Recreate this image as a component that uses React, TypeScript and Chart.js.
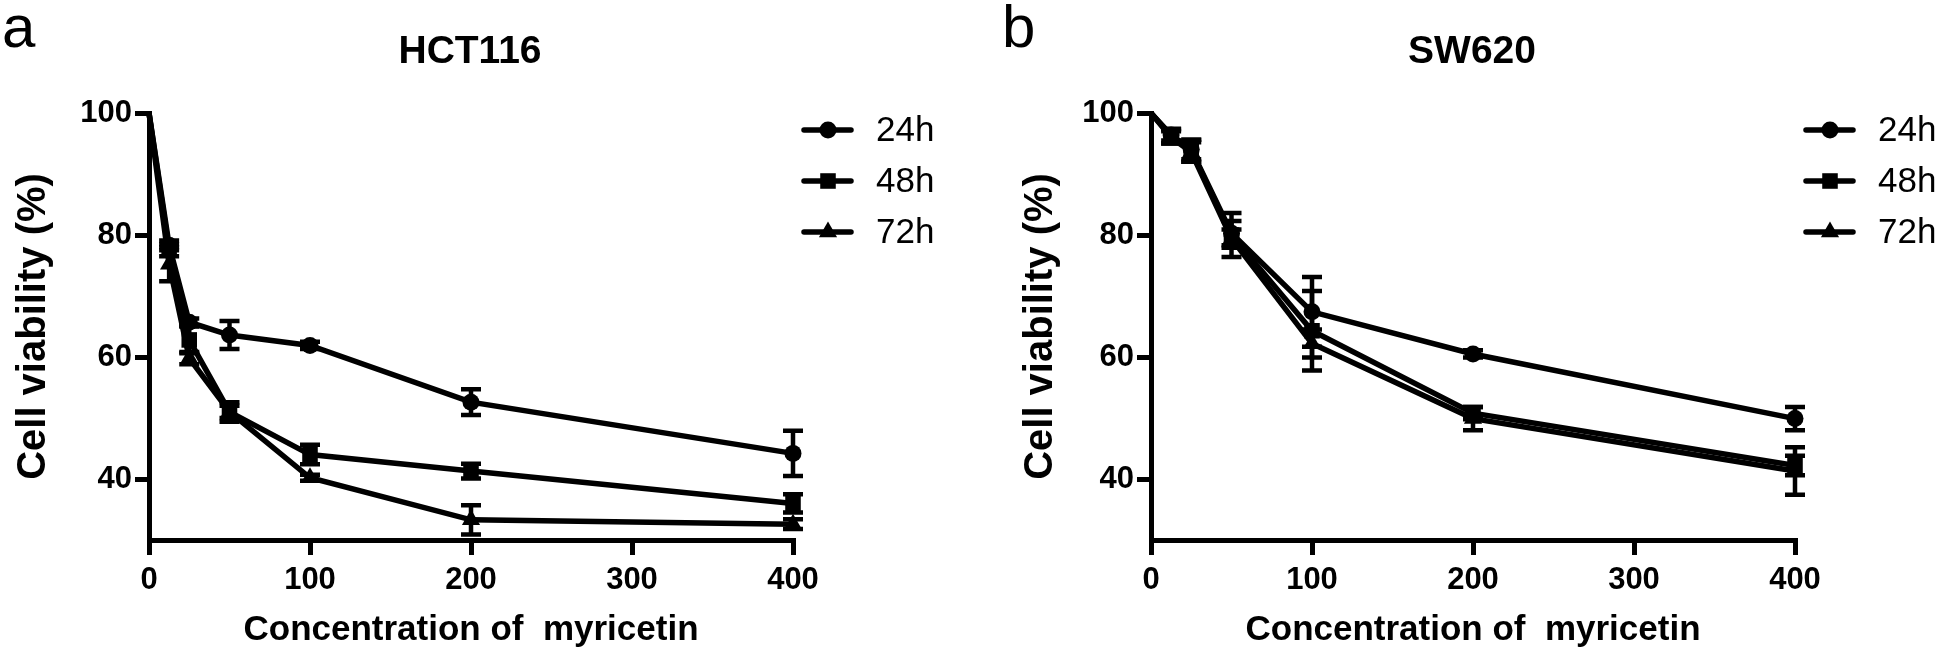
import React, { useEffect, useRef } from 'react';
import { Chart, registerables } from 'chart.js';

Chart.register(...registerables);

// ---- data ----
const concentrations = [0, 12.5, 25, 50, 100, 200, 400];
const seriesLabels = ['24h', '48h', '72h'];
const pointStyles = ['circle', 'rect', 'triangle'];
const pointRadii = [8.5, 11, 10.5];

const hct24 = [100, 78.3, 65.7, 63.6, 61.9, 52.6, 44.2];
const hct24Err = [0, 0.8, 0.6, 2.3, 0.6, 2.1, 3.7];
const hct48 = [100, 77.5, 62.8, 51.0, 44.0, 41.3, 36.0];
const hct48Err = [0, 1.0, 2.2, 1.6, 1.6, 1.2, 1.5];
const hct72 = [100, 75.2, 59.8, 51.0, 40.2, 33.3, 32.6];
const hct72Err = [0, 2.8, 1.0, 1.0, 0.5, 2.4, 0.8];

const sw24 = [100, 96.4, 94.0, 80.3, 67.4, 60.5, 49.9];
const sw24Err = [0, 0.9, 1.6, 2.0, 5.7, 0.6, 1.9];
const sw48 = [100, 96.2, 93.8, 80.0, 64.3, 50.8, 42.2];
const sw48Err = [0, 1.2, 1.8, 3.6, 6.5, 1.0, 1.6];
const sw72 = [100, 96.0, 93.6, 79.4, 62.2, 49.9, 41.3];
const sw72Err = [0, 1.0, 1.6, 1.5, 2.3, 1.9, 3.9];

const xTicks = [0, 100, 200, 300, 400];
const yTicks = [40, 60, 80, 100];

const xTitle = 'Concentration of  myricetin';
const yTitle = 'Cell viability (%)';

const FONT = "'Liberation Sans', Arial, Helvetica, sans-serif";

type Panel = {
  letter: string;
  title: string;
  values: number[][];
  errors: number[][];
  left: number;
  width: number;
  yWidth: number;
  yTitlePad: number;
};

const panels: Panel[] = [
  {
    letter: 'a',
    title: 'HCT116',
    values: [hct24, hct48, hct72],
    errors: [hct24Err, hct48Err, hct72Err],
    left: 0,
    width: 1000,
    yWidth: 149,
    yTitlePad: 10,
  },
  {
    letter: 'b',
    title: 'SW620',
    values: [sw24, sw48, sw72],
    errors: [sw24Err, sw48Err, sw72Err],
    left: 1000,
    width: 946,
    yWidth: 151,
    yTitlePad: 17,
  },
];

const HEIGHT = 654;
const PLOT_W = 644;

function drawMarker(ctx: CanvasRenderingContext2D, style: string, x: number, y: number, r: number) {
  ctx.beginPath();
  if (style === 'circle') {
    ctx.arc(x, y, r, 0, Math.PI * 2);
  } else if (style === 'rect') {
    const s = r * Math.SQRT1_2;
    ctx.rect(x - s, y - s, 2 * s, 2 * s);
  } else {
    let rad = 0;
    ctx.moveTo(x + Math.sin(rad) * r, y - Math.cos(rad) * r);
    rad += (2 * Math.PI) / 3;
    ctx.lineTo(x + Math.sin(rad) * r, y - Math.cos(rad) * r);
    rad += (2 * Math.PI) / 3;
    ctx.lineTo(x + Math.sin(rad) * r, y - Math.cos(rad) * r);
    ctx.closePath();
  }
  ctx.fill();
}

function makePlugin(panel: Panel) {
  return {
    id: 'panelDecor' + panel.letter,
    afterDatasetsDraw(chart: any) {
      const ctx = chart.ctx as CanvasRenderingContext2D;
      const xs = chart.scales.x;
      const ys = chart.scales.y;
      ctx.save();
      ctx.strokeStyle = '#000';
      ctx.lineWidth = 4.5;
      ctx.lineCap = 'butt';
      panel.values.forEach((vals, i) => {
        const errs = panel.errors[i];
        vals.forEach((v, j) => {
          const e = errs[j];
          if (!e) return;
          const x = xs.getPixelForValue(concentrations[j]);
          const yt = ys.getPixelForValue(v + e);
          const yb = ys.getPixelForValue(v - e);
          ctx.beginPath();
          ctx.moveTo(x, yt);
          ctx.lineTo(x, yb);
          ctx.moveTo(x - 10, yt);
          ctx.lineTo(x + 10, yt);
          ctx.moveTo(x - 10, yb);
          ctx.lineTo(x + 10, yb);
          ctx.stroke();
        });
      });
      ctx.restore();
    },
    afterDraw(chart: any) {
      const ctx = chart.ctx as CanvasRenderingContext2D;
      const area = chart.chartArea;
      ctx.save();
      ctx.fillStyle = '#000';
      // panel letter
      ctx.font = `normal 60px ${FONT}`;
      ctx.textAlign = 'left';
      ctx.textBaseline = 'alphabetic';
      ctx.fillText(panel.letter, 2, 47);
      // title
      ctx.font = `bold 39px ${FONT}`;
      ctx.textAlign = 'center';
      ctx.fillText(panel.title, (area.left + area.right) / 2 - 1, 63);
      // legend
      const rows = [130, 181, 232];
      const ax = area.left;
      seriesLabels.forEach((lab, i) => {
        const y = rows[i];
        ctx.strokeStyle = '#000';
        ctx.lineWidth = 5.5;
        ctx.lineCap = 'round';
        ctx.beginPath();
        ctx.moveTo(ax + 655, y);
        ctx.lineTo(ax + 702, y);
        ctx.stroke();
        drawMarker(ctx, pointStyles[i], ax + 679, y, pointRadii[i]);
        ctx.font = `normal 35px ${FONT}`;
        ctx.textAlign = 'left';
        ctx.textBaseline = 'middle';
        ctx.fillText(lab, ax + 727, y + 1);
      });
      ctx.restore();
    },
  };
}

function PanelChart({ panel }: { panel: Panel }) {
  const ref = useRef<HTMLCanvasElement | null>(null);
  useEffect(() => {
    const canvas = ref.current;
    if (!canvas) return;
    const datasets = panel.values.map((vals, i) => ({
      label: seriesLabels[i],
      data: vals.map((v, j) => ({ x: concentrations[j], y: v })),
      borderColor: '#000',
      backgroundColor: '#000',
      borderWidth: 5.5,
      pointStyle: pointStyles[i],
      pointRadius: (c: any) => (c.dataIndex === 0 ? 0 : pointRadii[i]),
      pointBackgroundColor: '#000',
      pointBorderColor: '#000',
      pointBorderWidth: 0,
      tension: 0,
      clip: false as any,
    }));
    const tickFont = { family: FONT, size: 31, weight: 'bold' as const };
    const chart = new Chart(canvas, {
      type: 'line',
      data: { datasets },
      plugins: [makePlugin(panel)],
      options: {
        animation: false,
        responsive: false,
        devicePixelRatio: 1,
        layout: {
          padding: {
            top: 113,
            left: 0,
            bottom: 0,
            right: panel.width - panel.yWidth - PLOT_W,
          },
        },
        plugins: {
          legend: { display: false },
          title: { display: false },
          tooltip: { enabled: false },
        },
        scales: {
          x: {
            type: 'linear',
            min: 0,
            max: 400,
            afterBuildTicks: (s: any) => {
              s.ticks = xTicks.map((v) => ({ value: v }));
            },
            afterFit: (s: any) => {
              s.height = 114;
            },
            grid: {
              display: true,
              drawOnChartArea: false,
              drawTicks: true,
              tickLength: 15,
              tickWidth: 5,
              color: '#000',
              lineWidth: 5,
            },
            border: { display: true, width: 5, color: '#000' },
            ticks: {
              color: '#000',
              font: tickFont,
              padding: 7,
              maxRotation: 0,
              autoSkip: false,
            },
            title: {
              display: true,
              text: xTitle,
              color: '#000',
              font: { family: FONT, size: 35, weight: 'bold' },
              padding: { top: 0, bottom: 3 },
            },
          },
          y: {
            type: 'linear',
            min: 30,
            max: 100,
            afterBuildTicks: (s: any) => {
              s.ticks = yTicks.map((v) => ({ value: v }));
            },
            afterFit: (s: any) => {
              s.width = panel.yWidth;
            },
            grid: {
              display: true,
              drawOnChartArea: false,
              drawTicks: true,
              tickLength: 14,
              tickWidth: 5,
              color: '#000',
              lineWidth: 5,
            },
            border: { display: true, width: 5, color: '#000' },
            ticks: {
              color: '#000',
              font: tickFont,
              padding: 3,
              autoSkip: false,
            },
            title: {
              display: true,
              text: yTitle,
              color: '#000',
              font: { family: FONT, size: 40, weight: 'bold' },
              padding: { top: panel.yTitlePad, bottom: 0 },
            },
          },
        },
      } as any,
    });
    return () => chart.destroy();
  }, [panel]);
  return (
    <canvas
      ref={ref}
      width={panel.width}
      height={HEIGHT}
      style={{
        position: 'absolute',
        left: panel.left,
        top: 0,
        width: panel.width,
        height: HEIGHT,
      }}
    />
  );
}

export default function App() {
  return (
    <div
      style={{
        position: 'absolute',
        left: 0,
        top: 0,
        width: 1946,
        height: HEIGHT,
        background: '#fff',
        overflow: 'hidden',
      }}
    >
      {panels.map((p) => (
        <PanelChart key={p.letter} panel={p} />
      ))}
    </div>
  );
}
